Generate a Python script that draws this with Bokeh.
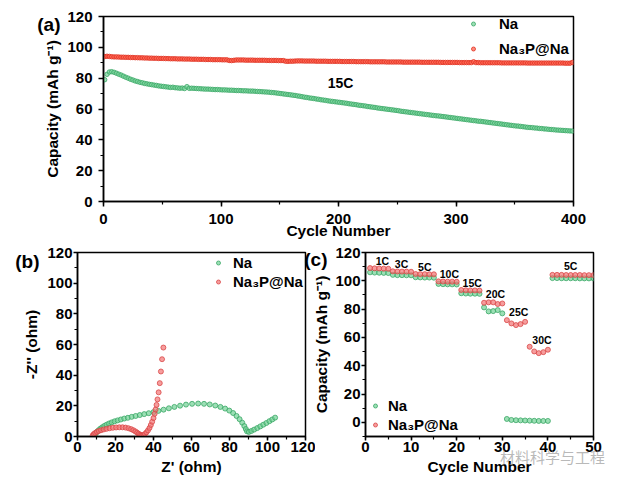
from bokeh.plotting import figure
from bokeh.layouts import column, row
from bokeh.models import (Legend, LegendItem, Label, SingleIntervalTicker, FixedTicker,
                          Range1d, LinearAxis)
from bokeh.embed import file_html
from bokeh.resources import INLINE

FONT = "Liberation Sans"

# ---------------- data: (a) cycling at 15C, every 2nd cycle ----------------
cycles_a = list(range(1, 400, 2))
na_cap_a = [
    79.0, 82.5, 84.0, 84.2, 83.8, 83.2, 82.6, 82.0, 81.3, 80.6, 80.0, 79.3, 78.8, 78.2, 77.8, 77.3, 77.0, 76.6, 76.3, 76.0,
    75.8, 75.5, 75.3, 75.0, 74.8, 74.6, 74.4, 74.2, 74.0, 74.1, 73.8, 73.7, 73.5, 73.6, 73.3, 74.5, 73.4, 73.5, 73.4, 73.3,
    73.2, 73.1, 73.0, 72.9, 72.9, 72.8, 72.7, 72.6, 72.6, 72.5, 72.4, 72.4, 72.3, 72.2, 72.2, 72.1, 72.0, 72.0, 71.9, 71.8,
    71.8, 71.7, 71.6, 71.6, 71.5, 71.4, 71.3, 71.2, 71.1, 71.0, 70.9, 70.7, 70.6, 70.4, 70.2, 70.0, 69.8, 69.6, 69.4, 69.2,
    69.0, 68.8, 68.5, 68.3, 68.0, 67.7, 67.5, 67.2, 67.0, 66.8, 66.5, 66.3, 66.0, 65.8, 65.6, 65.3, 65.1, 64.9, 64.7, 64.5,
    64.3, 64.1, 63.9, 63.7, 63.4, 63.2, 63.0, 62.8, 62.5, 62.3, 62.1, 61.9, 61.6, 61.4, 61.2, 61.0, 60.7, 60.5, 60.3, 60.1,
    59.9, 59.7, 59.5, 59.3, 59.1, 58.9, 58.6, 58.4, 58.2, 58.0, 57.8, 57.6, 57.4, 57.2, 57.0, 56.8, 56.6, 56.4, 56.2, 56.0,
    55.8, 55.6, 55.5, 55.3, 55.1, 54.9, 54.7, 54.5, 54.3, 54.1, 53.9, 53.7, 53.5, 53.3, 53.1, 52.9, 52.7, 52.5, 52.3, 52.1,
    52.0, 51.8, 51.6, 51.4, 51.2, 51.0, 50.8, 50.6, 50.4, 50.2, 50.0, 49.8, 49.6, 49.4, 49.2, 49.0, 48.9, 48.7, 48.5, 48.3,
    48.1, 48.0, 47.9, 47.7, 47.6, 47.4, 47.3, 47.1, 47.0, 46.8, 46.7, 46.6, 46.4, 46.3, 46.2, 46.1, 46.0, 45.9, 45.8, 45.7,
]
nap_cap_a = [
    94.0, 94.2, 94.1, 93.9, 93.8, 93.8, 93.7, 93.6, 93.6, 93.5, 93.5, 93.4, 93.4, 93.3, 93.3, 93.2, 93.2, 93.1, 93.1, 93.0,
    93.0, 92.9, 92.9, 92.8, 92.8, 92.8, 92.7, 92.7, 92.6, 92.6, 92.6, 92.5, 92.5, 92.5, 92.4, 92.4, 92.4, 92.3, 92.3, 92.3,
    92.2, 92.2, 92.2, 92.1, 92.1, 92.1, 92.0, 92.0, 92.0, 92.0, 91.9, 91.9, 91.9, 91.5, 91.4, 91.6, 91.8, 91.8, 91.8, 91.8,
    91.7, 91.7, 91.7, 91.7, 91.6, 91.6, 91.6, 91.6, 91.6, 91.5, 91.5, 91.5, 91.5, 91.5, 91.4, 91.4, 91.4, 91.0, 90.9, 91.0,
    91.0, 91.1, 91.2, 91.2, 91.2, 91.1, 91.1, 91.1, 91.1, 91.1, 91.0, 91.0, 91.0, 91.0, 91.0, 90.9, 90.9, 90.9, 90.9, 90.9,
    90.9, 90.8, 90.8, 90.8, 90.8, 90.8, 90.8, 90.7, 90.7, 90.7, 90.7, 90.7, 90.7, 90.6, 90.6, 90.6, 90.6, 90.6, 90.6, 90.6,
    90.5, 90.5, 90.5, 90.5, 90.5, 90.5, 90.5, 90.4, 90.4, 90.4, 90.4, 90.4, 90.4, 90.4, 90.4, 90.3, 90.3, 90.3, 90.3, 90.3,
    90.3, 90.3, 90.3, 90.2, 90.2, 90.2, 90.2, 90.2, 90.2, 90.2, 90.2, 90.1, 90.1, 90.1, 90.1, 90.1, 90.1, 90.6, 90.1, 90.1,
    90.0, 90.0, 90.0, 90.0, 90.0, 90.0, 90.0, 90.0, 90.0, 89.9, 89.9, 89.9, 89.9, 89.9, 89.9, 89.9, 89.9, 89.9, 89.9, 89.9,
    89.8, 89.8, 89.8, 89.8, 89.8, 89.8, 89.8, 89.8, 89.8, 89.8, 89.8, 89.8, 89.8, 89.8, 89.8, 89.8, 89.7, 89.7, 89.7, 90.2,
]

# ---------------- data: (b) Nyquist plots ----------------
na_zre = [9.0, 9.6, 10.3, 11.1, 12.0, 13.0, 14.1, 15.3, 16.6, 18.0, 19.5, 21.1, 22.8, 24.6, 26.5, 28.5,
          30.6, 32.8, 35.1, 37.5, 40.0, 42.6, 45.3, 48.1, 51.0, 54.0, 57.1, 60.3, 63.5, 66.6, 69.6, 72.5,
          75.2, 77.7, 79.9, 81.9, 83.7, 85.3, 86.7, 87.8, 88.6, 89.2, 90.2, 91.5, 93.0, 94.6, 96.2, 97.8,
          99.4, 101.0, 102.5, 104.0]
na_zim = [1.0, 2.0, 3.1, 4.1, 5.1, 6.0, 6.9, 7.7, 8.5, 9.2, 9.9, 10.5, 11.1, 11.7, 12.2, 12.8,
          13.4, 14.0, 14.6, 15.2, 15.9, 16.7, 17.5, 18.4, 19.3, 20.1, 20.8, 21.3, 21.5, 21.3, 20.9, 20.2,
          19.3, 18.2, 16.9, 15.3, 13.4, 11.3, 9.0, 6.8, 4.9, 3.4, 3.0, 3.6, 4.5, 5.5, 6.6, 7.7,
          8.8, 10.0, 11.1, 12.3]
nap_zre = [8.0, 8.6, 9.3, 10.2, 11.2, 12.4, 13.8, 15.3, 16.9, 18.6, 20.3, 22.0, 23.7, 25.3, 26.8, 28.2,
           29.4, 30.5, 31.4, 32.2, 32.9, 33.5, 34.1, 34.8, 35.5, 36.3, 37.1, 37.9, 38.6, 39.3, 40.0, 40.6,
           41.1, 41.6, 42.1, 42.7, 43.3, 43.9, 44.5, 45.2]
nap_zim = [0.8, 1.6, 2.3, 3.0, 3.6, 4.1, 4.6, 5.0, 5.4, 5.7, 5.9, 6.0, 6.0, 5.8, 5.4, 4.8,
           4.1, 3.3, 2.5, 1.8, 1.2, 0.8, 0.7, 1.0, 1.7, 2.7, 4.0, 5.6, 7.5, 9.6, 12.0, 14.8,
           17.6, 20.6, 24.2, 28.8, 34.8, 42.4, 50.4, 58.0]

# ---------------- data: (c) rate performance ----------------
cycles_c = list(range(1, 51))
na_cap_c = [106.0, 105.8, 105.7, 105.6, 105.5, 104.2, 104.0, 104.0, 103.9, 103.9,
            102.5, 102.4, 102.3, 102.3, 102.2, 97.8, 97.6, 97.5, 97.5, 97.4,
            91.2, 91.0, 90.9, 90.9, 90.8, 81.2, 78.4, 78.6, 79.3, 77.0,
            2.4, 1.7, 1.5, 1.4, 1.3, 1.2, 1.1, 1.0, 1.0, 1.0,
            101.9, 101.9, 101.8, 101.8, 101.8, 101.8, 101.7, 101.7, 101.7, 101.7]
nap_cap_c = [109.0, 108.8, 108.7, 108.6, 108.5, 106.7, 106.6, 106.5, 106.5, 106.4,
             104.8, 104.7, 104.7, 104.6, 104.6, 99.6, 99.5, 99.4, 99.4, 99.3,
             93.5, 93.3, 93.2, 93.2, 93.1, 84.5, 84.8, 84.8, 83.6, 84.0,
             72.2, 69.9, 68.7, 69.4, 71.0, 53.4, 50.1, 48.9, 49.6, 51.3,
             104.2, 104.2, 104.2, 104.1, 104.1, 104.1, 104.1, 104.0, 104.0, 104.0]
rate_labels = ["1C", "3C", "5C", "10C", "15C", "20C", "25C", "30C", "5C"]
rate_label_x = [3.7, 7.9, 13.0, 18.4, 23.4, 28.5, 33.6, 38.7, 45.0]
rate_label_y = [113.8, 112.0, 110.0, 104.9, 98.5, 90.8, 77.8, 58.5, 110.3]

GREEN_F, GREEN_L = "#72d196", "#3aa766"
RED_F, RED_L = "#ff5b47", "#e0301f"
RED2_F, RED2_L = "#f27474", "#d94848"


def style(p, xint, yint, tick_out=5, xstand=3, ystand=3, xls=0, yls=3):
    p.xaxis.ticker = SingleIntervalTicker(interval=xint, num_minor_ticks=2)
    p.yaxis.ticker = SingleIntervalTicker(interval=yint, num_minor_ticks=2)
    for ax in (p.xaxis[0], p.yaxis[0]):
        ax.axis_line_width = 1.5
        ax.axis_line_color = "black"
        ax.major_tick_line_width = 1.5
        ax.minor_tick_line_width = 1.2
        ax.major_tick_out = tick_out
        ax.major_tick_in = 0
        ax.minor_tick_out = 3
        ax.minor_tick_in = 0
        ax.major_label_text_font = FONT
        ax.major_label_text_font_style = "bold"
        ax.major_label_text_font_size = "15px"
        ax.major_label_text_color = "black"
        ax.axis_label_text_font = FONT
        ax.axis_label_text_font_style = "bold"
        ax.axis_label_text_font_size = "15.5px"
        ax.axis_label_text_color = "black"
    p.xaxis[0].major_label_standoff = xstand
    p.yaxis[0].major_label_standoff = ystand
    p.xaxis[0].axis_label_standoff = xls
    p.yaxis[0].axis_label_standoff = yls
    p.xgrid.visible = False
    p.ygrid.visible = False
    p.outline_line_color = "black"
    p.outline_line_width = 1.5
    p.background_fill_color = "white"
    p.border_fill_color = "white"


def legend(p, items, loc, standoff, spacing):
    lg = Legend(items=[LegendItem(label=t, renderers=[r]) for t, r in items],
                location=loc, orientation="vertical",
                glyph_width=10, glyph_height=17, label_height=17,
                label_standoff=standoff, spacing=spacing, padding=0, margin=0,
                border_line_color=None, background_fill_alpha=0,
                label_text_font=FONT, label_text_font_style="bold",
                label_text_font_size="15px", label_text_color="black")
    p.add_layout(lg)


def tag(p, x, y, text, size):
    p.add_layout(Label(x=x, y=y, text=text, text_font=FONT, text_font_style="bold",
                       text_font_size=size, text_align="center", text_baseline="middle",
                       text_color="black"))


def text_axis(p, side, pos, text, standoff, size="19px", font=FONT, style="bold",
              color="black", alpha=1.0):
    # an extra axis carrying a single label: used for the panel tags outside the frame
    ax = LinearAxis(ticker=FixedTicker(ticks=[pos], minor_ticks=[]),
                    major_label_overrides={pos: text},
                    axis_line_color=None, major_tick_line_color=None,
                    minor_tick_line_color=None, major_tick_in=0, major_tick_out=0,
                    major_label_standoff=standoff, major_label_text_font=font,
                    major_label_text_font_style=style, major_label_text_font_size=size,
                    major_label_text_color=color, major_label_text_alpha=alpha)
    p.add_layout(ax, side)


# ---------------- (a) ----------------
pa = figure(width=611, height=243, output_backend="svg", toolbar_location=None,
            x_range=Range1d(0, 400), y_range=Range1d(0, 120),
            min_border_left=103, min_border_right=38, min_border_top=16, min_border_bottom=42,
            x_axis_label="Cycle Number", y_axis_label="Capacity (mAh g⁻¹)")
style(pa, 100, 20, tick_out=5, xstand=7, ystand=6, xls=-5, yls=3)
ra1 = pa.scatter(cycles_a, na_cap_a, size=4.5, fill_color=GREEN_F, line_color=GREEN_L,
                 fill_alpha=0.7, line_width=0.8)
ra2 = pa.scatter(cycles_a, nap_cap_a, size=4.5, fill_color=RED_F, line_color=RED_L,
                 fill_alpha=0.7, line_width=0.8)
legend(pa, [("Na", ra1), ("Na₃P@Na", ra2)], (365, 144), 21, 8)
tag(pa, 201.7, 76.8, "15C", "14px")
text_axis(pa, "left", 115, "(a)", -19)

# ---------------- (b) ----------------
pb = figure(width=315, height=237, output_backend="svg", toolbar_location=None,
            x_range=Range1d(0, 120), y_range=Range1d(0, 120),
            min_border_left=77, min_border_right=10, min_border_top=9, min_border_bottom=44,
            x_axis_label="Z' (ohm)", y_axis_label="-Z'' (ohm)")
style(pb, 20, 20, tick_out=4, xstand=1, ystand=1, xls=3, yls=4)
rb1 = pb.scatter(na_zre, na_zim, size=5, fill_color=GREEN_F, line_color=GREEN_L,
                 fill_alpha=0.7, line_width=0.8)
rb2 = pb.scatter(nap_zre, nap_zim, size=5, fill_color=RED2_F, line_color=RED2_L,
                 fill_alpha=0.7, line_width=0.8)
legend(pb, [("Na", rb1), ("Na₃P@Na", rb2)], (136, 146), 10, 2)
text_axis(pb, "left", 114, "(b)", -19)

# ---------------- (c) ----------------
# overlaps panel (b)'s right border by 20 px (transparent border) like the original
pc = figure(width=310, height=237, output_backend="svg", toolbar_location=None,
            x_range=Range1d(0, 50), y_range=Range1d(-10, 120),
            min_border_left=70, min_border_right=12, min_border_top=9, min_border_bottom=44,
            x_axis_label="Cycle Number", y_axis_label="Capacity (mAh g⁻¹)",
            margin=(0, 0, 0, -20))
style(pc, 10, 20, tick_out=4, xstand=1, ystand=1, xls=3, yls=2)
pc.border_fill_alpha = 0
rc1 = pc.scatter(cycles_c, na_cap_c, size=5, fill_color=GREEN_F, line_color=GREEN_L,
                 fill_alpha=0.7, line_width=0.8)
rc2 = pc.scatter(cycles_c, nap_cap_c, size=5, fill_color=RED2_F, line_color=RED2_L,
                 fill_alpha=0.7, line_width=0.8)
for t, x, y in zip(rate_labels, rate_label_x, rate_label_y):
    tag(pc, x, y, t, "10.5px")
legend(pc, [("Na", rc1), ("Na₃P@Na", rc2)], (5, 3), 8, 2)
text_axis(pc, "left", 115, "(c)", -17)
text_axis(pc, "below", 41, "材料科学与工程", -32, size="15px", font="Noto Sans CJK SC",
          style="normal", color="#8a8a8a", alpha=0.6)

layout = column(pa, row(pb, pc))
open("out.html", "w").write(file_html(layout, INLINE))
